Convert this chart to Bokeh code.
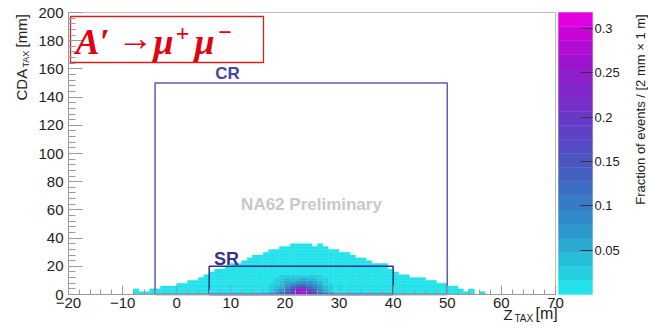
from bokeh.plotting import figure
from bokeh.models import (LinearColorMapper, FixedTicker, SingleIntervalTicker, LinearAxis,
                          NumeralTickFormatter, Label, ColumnDataSource, Range1d)
from bokeh.transform import transform
from bokeh.embed import file_html
from bokeh.resources import INLINE
import math

# ---- 2D histogram: Z_TAX in 1 m bins, CDA_TAX in 2 mm bins ----
z_bins = list(range(-8, 57))
# upper edge (mm) of the populated region for each Z bin
env_top = [4, 2, 2, 4, 4, 6, 6, 6, 8, 8, 10, 10, 12, 14, 16, 18, 18, 20, 22, 22,
           24, 26, 28, 28, 30, 32, 32, 34, 34, 36, 36, 36, 36, 34, 36, 34, 32, 32,
           30, 30, 28, 26, 26, 24, 22, 22, 22, 18, 16, 14, 14, 12, 12, 12, 10, 10,
           8, 8, 6, 6, 4, 2, 4, 0, 2]
base_level = 0.008

# dense core of the distribution (fraction of events per cell), rows = 2 mm CDA bins
core_z = list(range(17, 29))
core_rows = [
    [0.035, 0.060, 0.100, 0.150, 0.220, 0.300, 0.310, 0.240, 0.160, 0.100, 0.060, 0.035],
    [0.030, 0.050, 0.080, 0.120, 0.180, 0.250, 0.260, 0.190, 0.130, 0.080, 0.050, 0.030],
    [0.025, 0.040, 0.060, 0.090, 0.130, 0.170, 0.180, 0.140, 0.100, 0.065, 0.040, 0.025],
    [0.020, 0.030, 0.045, 0.065, 0.090, 0.110, 0.115, 0.095, 0.070, 0.050, 0.030, 0.020],
    [0.015, 0.025, 0.035, 0.050, 0.060, 0.070, 0.075, 0.065, 0.050, 0.035, 0.025, 0.015],
    [0.010, 0.020, 0.025, 0.035, 0.040, 0.045, 0.050, 0.045, 0.035, 0.025, 0.020, 0.010],
    [0.008, 0.015, 0.018, 0.022, 0.028, 0.030, 0.030, 0.028, 0.022, 0.018, 0.012, 0.008],
]

# signal / control regions (Z in m, CDA in mm)
cr_z = [-4, 50]
cr_cda = [0, 150]
sr_z = [6, 40]
sr_cda = [0, 20]

z_lim = (-20, 70)
cda_lim = (0, 200)
x_tick_text = {-20: "\u221220", -10: "\u221210"}
cbar_ticks = [0.05, 0.1, 0.15, 0.2, 0.25, 0.3]
cbar_max = 0.318

palette = ["#24e2ea", "#24cfe0", "#26bdd8", "#2aaad1", "#2e99cc", "#328ac8",
           "#377bc5", "#3d6dc2", "#4461c2", "#4c56c3", "#554bc4", "#5f41c6",
           "#6a38c7", "#762fc9", "#8226cb", "#8f1ecd", "#9e15cf", "#b00cd3",
           "#c805d9", "#e000e2"]

# ---- canvas layout (pixels) ----
W, H = 648, 328
FL, FR, FT, FB = 68, 555, 12, 294          # histogram frame
CB_L, CB_R = 558, 592                       # colour scale strip
kx = (FR - FL) / (z_lim[1] - z_lim[0])
ky = (FB - FT) / (cda_lim[1] - cda_lim[0])

def X(px):
    return z_lim[0] + (px - FL) / kx

def Y(py):
    return cda_lim[0] + (FB - py) / ky

x_range = Range1d(X(0), X(W))
y_range = Range1d(Y(H), Y(0))

p = figure(width=W, height=H, x_range=x_range, y_range=y_range,
           output_backend="svg", toolbar_location=None,
           x_axis_location=None, y_axis_location=None,
           min_border=0, min_border_left=0, min_border_right=0,
           min_border_top=0, min_border_bottom=0)
p.background_fill_color = "white"
p.border_fill_color = "white"
p.outline_line_color = None
p.grid.visible = False

# frame box
p.quad(left=z_lim[0], right=z_lim[1], bottom=cda_lim[0], top=cda_lim[1],
       fill_color=None, line_color="#bdbdbd", line_width=1)

# histogram cells
lefts, rights, bottoms, tops, vals = [], [], [], [], []
for z, top in zip(z_bins, env_top):
    for y in range(0, top, 2):
        v = base_level
        if z in core_z and y // 2 < len(core_rows):
            v = max(v, core_rows[y // 2][core_z.index(z)])
        lefts.append(z); rights.append(z + 1)
        bottoms.append(y); tops.append(y + 2)
        vals.append(v)
src = ColumnDataSource(dict(left=lefts, right=rights, bottom=bottoms, top=tops, v=vals))
mapper = LinearColorMapper(palette=palette, low=0.0, high=cbar_max)
p.quad(left="left", right="right", bottom="bottom", top="top", source=src,
       fill_color=transform("v", mapper), line_color=transform("v", mapper), line_width=0.4)

# region boxes
p.quad(left=cr_z[0], right=cr_z[1], bottom=cr_cda[0], top=cr_cda[1],
       fill_color=None, line_color="#5c5cb4", line_width=1.5)
p.quad(left=sr_z[0], right=sr_z[1], bottom=sr_cda[0], top=sr_cda[1],
       fill_color=None, line_color="#2e2e8e", line_width=1.5)

# colour scale strip, drawn on its own value range aligned with the frame
p.extra_y_ranges = {"cb": Range1d(Y(H) * cbar_max / cda_lim[1], Y(0) * cbar_max / cda_lim[1])}
n = len(palette)
step = cbar_max / n
p.quad(left=X(CB_L), right=X(CB_R), bottom=[i * step for i in range(n)],
       top=[(i + 1) * step for i in range(n)], fill_color=palette, line_color=palette,
       line_width=0.4, y_range_name="cb")

def style_axis(ax, size="15px"):
    ax.axis_line_color = "#9a9a9a"
    ax.major_tick_line_color = "#9a9a9a"
    ax.minor_tick_line_color = "#9a9a9a"
    ax.major_tick_out = 0
    ax.minor_tick_out = 0
    ax.major_label_text_font = "Liberation Sans"
    ax.major_label_text_font_size = size
    ax.major_label_text_color = "#222222"

xax = LinearAxis(fixed_location=cda_lim[0], bounds=z_lim,
                 ticker=SingleIntervalTicker(interval=10, num_minor_ticks=5))
style_axis(xax)
xax.major_tick_in = 9
xax.minor_tick_in = 5
xax.major_label_standoff = 3
xax.major_label_overrides = x_tick_text
p.add_layout(xax, "below")

yax = LinearAxis(fixed_location=z_lim[0], bounds=cda_lim,
                 ticker=SingleIntervalTicker(interval=20, num_minor_ticks=5))
style_axis(yax)
yax.major_tick_in = 14
yax.minor_tick_in = 7
yax.major_label_standoff = 5
p.add_layout(yax, "left")

cax = LinearAxis(y_range_name="cb", fixed_location=X(CB_R), bounds=(0, cbar_max),
                 ticker=FixedTicker(ticks=cbar_ticks),
                 formatter=NumeralTickFormatter(format="0.0[0]"))
style_axis(cax, "13px")
cax.axis_line_color = None
cax.minor_tick_line_color = None
cax.major_tick_line_color = "#333333"
cax.major_tick_in = 12
cax.major_label_standoff = 2
p.add_layout(cax, "right")

def lab(px, py, text, size, color="#222222", font="Liberation Sans", style="normal",
        angle=0.0, align="left", baseline="middle"):
    p.add_layout(Label(x=X(px), y=Y(py), text=text, text_font_size=size, text_color=color,
                       text_font=font, text_font_style=style, angle=angle,
                       text_align=align, text_baseline=baseline))

# axis titles
up = math.pi / 2
lab(21, 100, "CDA", "15px", angle=up)
lab(25, 67, "TAX", "9px", angle=up)
lab(21, 47, "[mm]", "15px", angle=up)
lab(503, 314, "Z", "15px")
lab(514, 318, "TAX", "10px")
lab(535, 313, "[m]", "16px")
lab(640, 109, "Fraction of events / [2 mm \u00d7 1 m]", "13px", angle=up, align="center")

# region labels
lab(227, 73, "CR", "17px", color="#4646a0", style="bold", align="center")
lab(226, 258, "SR", "18px", color="#34348e", style="bold", align="center")
lab(311, 204, "NA62 Preliminary", "17px", color="#c8c8c8", style="bold", align="center")

# process tag
p.quad(left=X(70), right=X(263), bottom=Y(62), top=Y(16),
       fill_color="white", line_color="#d42020", line_width=1.3)
red = "#e3000f"
serif = "Liberation Serif"
lab(75, 41, "A\u2032", "36px", color=red, font=serif, style="bold italic")
lab(117, 37, "\u2192", "36px", color=red, font=serif)
lab(153, 41, "\u03bc", "36px", color=red, font=serif, style="bold italic")
lab(175, 33, "+", "24px", color=red, font=serif, style="bold italic")
lab(194, 41, "\u03bc", "36px", color=red, font=serif, style="bold italic")
lab(217, 32, "\u2212", "24px", color=red, font=serif, style="bold italic")

open("out.html", "w").write(file_html(p, INLINE))
